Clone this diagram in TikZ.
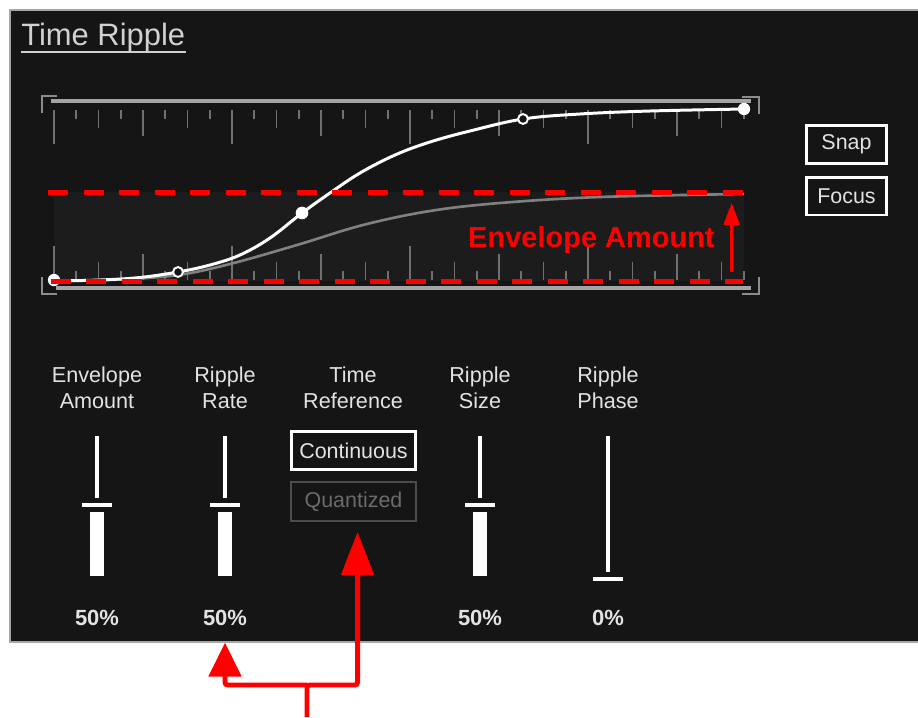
\documentclass[tikz,border=0pt]{standalone}
\usepackage{fontspec}
\setmainfont{Liberation Sans}
\usetikzlibrary{arrows.meta,positioning,calc}
\definecolor{panel}{HTML}{151515}
\definecolor{band}{HTML}{1C1C1C}
\definecolor{railc}{HTML}{A4A4A4}
\definecolor{tickc}{HTML}{707070}
\definecolor{hot}{HTML}{FF0000}
\definecolor{soft}{HTML}{E2E2E2}

\begin{document}
\begin{tikzpicture}[x=0.02cm,y=-0.02cm,
    lbl/.style={text=soft, align=center, inner sep=0pt, font=\fontsize{12.3}{14.8}\selectfont},
    pct/.style={text=soft, anchor=base, inner sep=0pt, font=\bfseries\fontsize{12.5}{14.8}\selectfont},
    btn/.style={draw=white, line width=1.7pt, text=soft, inner sep=0pt, font=\fontsize{12.2}{14}\selectfont},
    tickln/.style={tickc, line width=1.1pt},
    railln/.style={railc, line width=2.1pt},
    brk/.style={white!55!black, line width=1.1pt},
    hotdash/.style={hot, line width=2.7pt, dash pattern=on 11.4pt off 8.8pt},
    hotarr/.style={hot, line width=2.8pt, rounded corners=1.5pt},
    knob/.style={white, line width=2.3pt}]

	\useasboundingbox (0,0) rectangle (918,717);
	\fill[white] (0,0) rectangle (918,717);
	\draw[gray!70, line width=0.6pt, fill=panel] (10,10) rectangle (919,642);

	% title
	\node[anchor=base west, inner sep=0pt, text=white!82!black, font=\fontsize{17.6}{20}\selectfont] (title) at (21,45) {Time Ripple};
	\draw[white!82!black, line width=1.1pt] (title.south west) -- (title.south east);

	% envelope editor
	\fill[band] (54,192) rectangle (744,281);
	\foreach \k in {0,...,31}{
		\pgfmathsetmacro{\tx}{54+22.25*\k}
		\pgfmathsetmacro{\tl}{mod(\k,8)==0 ? 34 : (mod(\k,4)==0 ? 26 : (mod(\k,2)==0 ? 18 : 9))}
		\draw[tickln] (\tx,110) -- ++(0,\tl);
		\draw[tickln] (\tx,280) -- ++(0,-\tl);
	}
	\draw[railln] (51,101) -- (751,101);
	\draw[railln] (56,288) -- (751,288);
	\draw[brk] (57,96) -- (41.7,96) -- (41.7,113);
	\draw[brk] (41.7,277) -- (41.7,294) -- (57,294);
	\draw[brk] (741.7,96.7) -- (758.7,96.7) -- (758.7,114);
	\draw[brk] (758.7,277) -- (758.7,294) -- (741.7,294);

	\draw[white!50!black, line width=1.5pt] plot[smooth, tension=0.6] coordinates {(54,281) (120,279.5) (178,275) (230,264) (297,245) (363,225) (430,211) (500,203) (600,197) (744,194)};
	\draw[white, line width=1.7pt] plot[smooth, tension=0.6] coordinates {(54,281) (100,280) (140,277.5) (178,272) (210,265) (240,255) (270,238) (302,213) (330,193) (360,173) (395,155) (430,142) (470,131) (523,119) (580,114) (650,111) (744,109)};
	\fill[white] (54,280) circle[radius=3.5pt];
	\fill[white] (302,213) circle[radius=3.6pt];
	\fill[white] (744,109) circle[radius=3.5pt];
	\draw[white, line width=1.1pt, fill=panel] (178,272) circle[radius=2.8pt];
	\draw[white, line width=1.1pt, fill=panel] (523,119) circle[radius=2.8pt];

	\draw[hotdash] (48.3,192.7) -- (743,192.7);
	\draw[hotdash] (50.7,281.3) -- (743,281.3);
	\coordinate (ampLo) at (731.7,272);
	\coordinate (ampHi) at (731.7,203);
	\draw[hot, line width=1.7pt, -{Triangle[length=12.5pt,width=9.1pt]}] (ampLo) -- (ampHi);
	\node[anchor=base east, inner sep=0pt, text=hot, font=\bfseries\fontsize{16.5}{18}\selectfont] (ampLbl) at (715,247) {Envelope Amount};

	\node[btn, minimum width=1.6cm, minimum height=0.76cm] (snap) at (846.5,144.5) {Snap};
	\node[btn, minimum width=1.6cm, minimum height=0.76cm] (focus) at (846.5,196) {Focus};

	% sliders
	\foreach \sx/\sn/\stext in {97/env/{Envelope\\Amount}, 225/rate/{Ripple\\Rate}, 480/size/{Ripple\\Size}}{
		\node[lbl, anchor=north] (lbl-\sn) at (\sx,366) {\stext};
		\draw[white, line width=1.9pt] (\sx,436) -- (\sx,498);
		\draw[knob] (\sx-15,505) -- (\sx+15,505);
		\fill[white] (\sx-7,512) rectangle (\sx+7,576);
		\node[pct] (pct-\sn) at (\sx,625) {50\%};
	}
	\node[lbl, anchor=north] (lbl-phase) at (608,366) {Ripple\\Phase};
	\draw[white, line width=1.9pt] (608,436) -- (608,572);
	\draw[knob] (593,579) -- (623,579);
	\node[pct] (pct-phase) at (608,625) {0\%};

	\node[lbl, anchor=north] (lbl-tref) at (353,366) {Time\\Reference};
	\node[btn, minimum width=2.48cm, minimum height=0.76cm] (cont) at (353.5,450.5) {Continuous};
	\node[btn, draw=white!30!black, line width=1.1pt, text=white!42!black, minimum width=2.5cm, minimum height=0.78cm] (quant) at (353.5,501.5) {Quantized};

	% callout arrows
	\coordinate (src) at (307,717);
	\coordinate (fork) at (307,685);
	\draw[hotarr, -{Triangle[length=19.3pt,width=18.2pt]}, shorten >=9.7pt] (fork) -| (pct-rate);
	\draw[hotarr, -{Triangle[length=24.5pt,width=18.2pt]}, shorten >=5.7pt] (src) -- (fork) -| ([xshift=2.3pt]quant.south);

\end{tikzpicture}
\end{document}
